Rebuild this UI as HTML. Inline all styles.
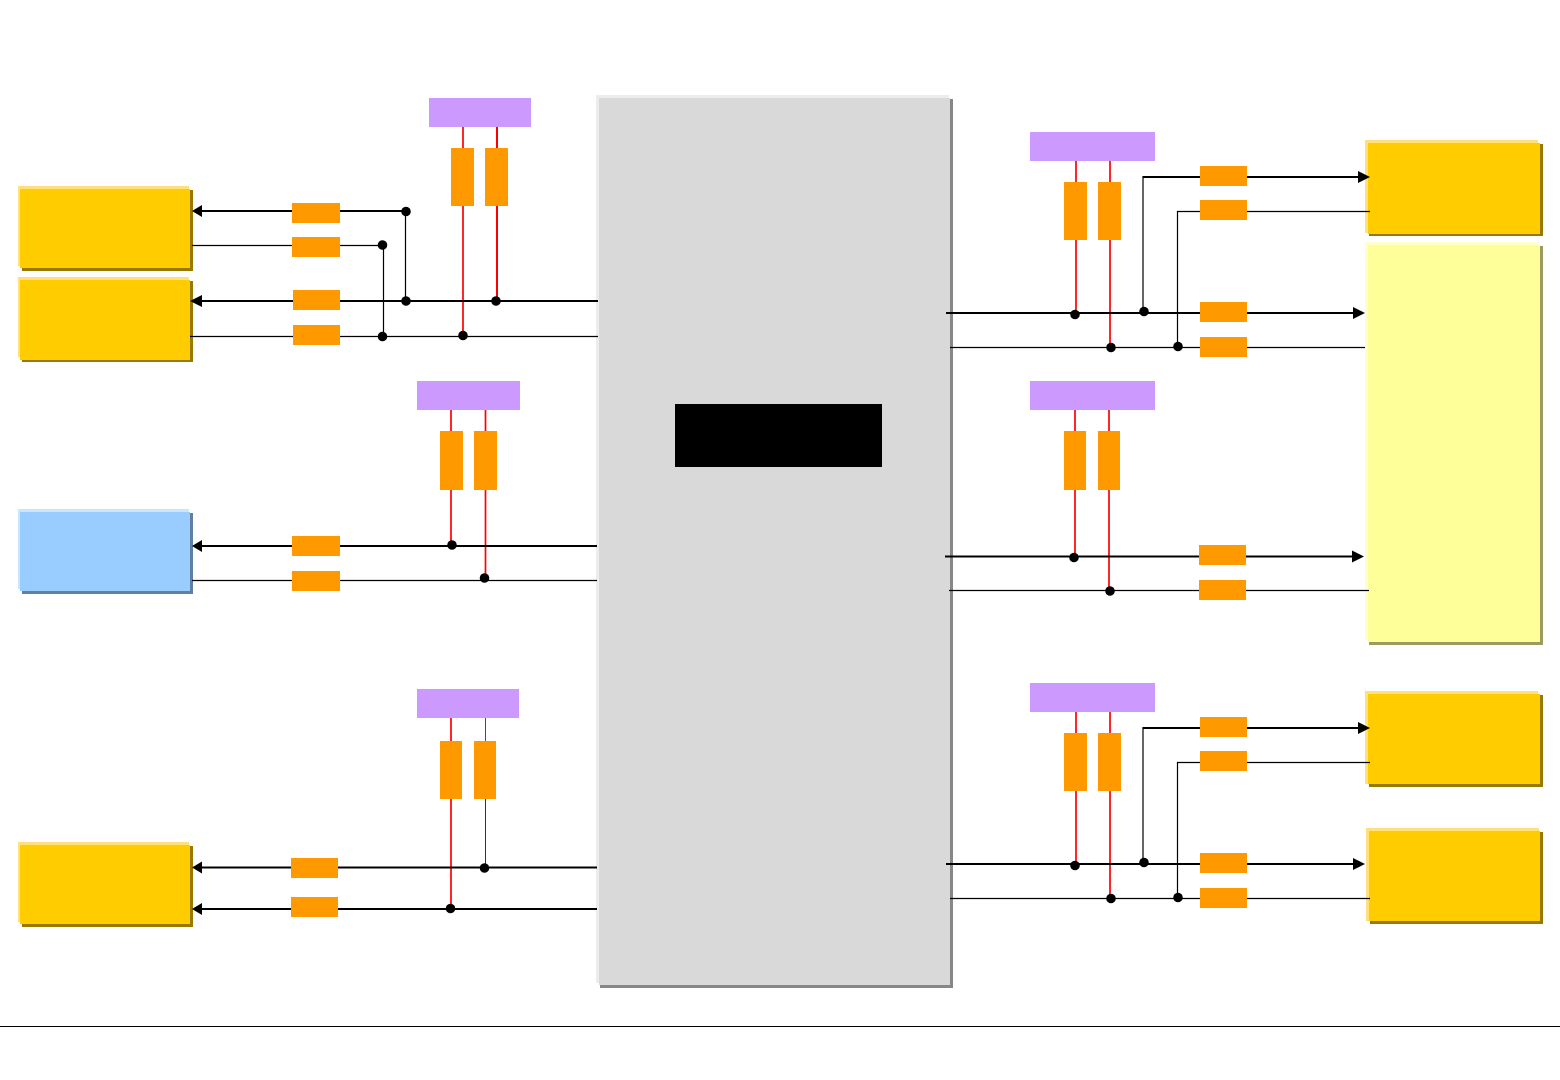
<!DOCTYPE html>
<html>
<head>
<meta charset="utf-8">
<title>Diagram</title>
<style>
html,body{margin:0;padding:0;background:#fff;width:1560px;height:1080px;overflow:hidden}
svg{display:block}
.o{fill:#ff9900}
.p{fill:#cc99ff}
.k{stroke:#000;fill:none}
.t{stroke-width:2}
.n{stroke-width:1.2}
.r{stroke:#f00;fill:none;stroke-width:1.7}
</style>
</head>
<body>
<svg width="1560" height="1080" viewBox="0 0 1560 1080" xmlns="http://www.w3.org/2000/svg">
<rect width="1560" height="1080" fill="#fff"/>

<!-- Centre block -->
<rect x="596" y="95" width="353" height="888" fill="#ececec"/>
<rect x="600" y="99" width="353" height="889" fill="#878787"/>
<rect x="599" y="98" width="351" height="887" fill="#d9d9d9"/>
<rect x="675" y="404" width="207" height="63" fill="#000"/>

<!-- Left boxes -->
<rect x="18" y="186" width="171" height="80" fill="#ffe07f"/>
<rect x="22" y="190" width="171" height="81" fill="#997a00"/>
<rect x="20" y="189" width="170" height="79" fill="#ffcc00"/>

<rect x="18" y="277" width="171" height="80" fill="#ffe07f"/>
<rect x="22" y="281" width="171" height="81" fill="#997a00"/>
<rect x="20" y="280" width="170" height="80" fill="#ffcc00"/>

<rect x="18" y="509" width="171" height="80" fill="#cce5ff"/>
<rect x="22" y="513" width="171" height="81" fill="#5f7fa3"/>
<rect x="20" y="512" width="170" height="79" fill="#99ccff"/>

<rect x="18" y="842" width="171" height="80" fill="#ffe07f"/>
<rect x="22" y="846" width="171" height="81" fill="#997a00"/>
<rect x="20" y="845" width="170" height="79" fill="#ffcc00"/>

<!-- Right boxes -->
<rect x="1365" y="140" width="173" height="93" fill="#ffe07f"/>
<rect x="1369" y="144" width="174" height="92" fill="#997a00"/>
<rect x="1368" y="143" width="172" height="91" fill="#ffcc00"/>

<rect x="1365" y="242" width="173" height="398" fill="#ffffcc"/>
<rect x="1369" y="246" width="174" height="399" fill="#9c9c60"/>
<rect x="1368" y="245" width="172" height="397" fill="#ffff99"/>

<rect x="1365" y="691" width="173" height="93" fill="#ffe07f"/>
<rect x="1369" y="695" width="174" height="92" fill="#997a00"/>
<rect x="1368" y="694" width="172" height="90" fill="#ffcc00"/>

<rect x="1366" y="828" width="173" height="93" fill="#ffe07f"/>
<rect x="1370" y="832" width="173" height="92" fill="#997a00"/>
<rect x="1369" y="831" width="171" height="90" fill="#ffcc00"/>

<!-- Footer rule -->
<line x1="0" x2="1560" y1="1026.5" y2="1026.5" stroke="#000" stroke-width="1"/>

<!-- Red lines -->
<path class="r" d="M463 127V335"/>
<path class="r" style="stroke-width:2" d="M497 127V301"/>
<path class="r" d="M451 410V545M485.500 410V578"/>
<path class="r" d="M451 718V908"/>
<path class="r" style="stroke-width:1" d="M485.500 718V741"/>
<path d="M485.500 799V868" stroke="#333" stroke-width="1" fill="none"/>
<path class="r" d="M1076 161V314M1110 161V347"/>
<path class="r" d="M1075 410V557M1109 410V591"/>
<path class="r" d="M1076 712V865M1110 712V898"/>

<!-- Black lines left -->
<path class="k t" d="M196 211H406"/>
<path class="k n" d="M192 245.500H384"/>
<path class="k n" d="M405.500 211V301M383.500 245V337"/>
<path class="k t" d="M196 301H598"/>
<path class="k n" d="M190 336.500H598"/>
<path class="k t" d="M196 546H597"/>
<path class="k n" d="M192 580.500H597"/>
<path class="k t" d="M196 867.500H597"/>
<path class="k t" d="M196 909H597"/>

<!-- Black lines right -->
<path class="k t" d="M946 313H1358"/>
<path class="k n" d="M950 347.500H1365"/>
<path class="k t" d="M1142.500 177H1362"/>
<path class="k n" d="M1143 176V312"/>
<path class="k n" d="M1177.500 347V211.500H1370"/>
<path class="k t" d="M945 556.500H1358"/>
<path class="k n" d="M949 590.500H1369"/>
<path class="k t" d="M946 864H1358"/>
<path class="k n" d="M950 898.500H1370"/>
<path class="k t" d="M1142.500 728H1362"/>
<path class="k n" d="M1143 727V863"/>
<path class="k n" d="M1177.500 898V762.500H1370"/>

<!-- Arrowheads -->
<g fill="#000">
<polygon points="192,211 202,205 202,217"/>
<polygon points="190,301 202,295 202,307"/>
<polygon points="192,546 202,540 202,552"/>
<polygon points="192,867.500 202,861.500 202,873.500"/>
<polygon points="192,909 202,903 202,915"/>
<polygon points="1370,177 1358,171 1358,183"/>
<polygon points="1365,313 1353,307 1353,319"/>
<polygon points="1364,556.500 1352,550.500 1352,562.500"/>
<polygon points="1370,728 1358,722 1358,734"/>
<polygon points="1365,864 1353,858 1353,870"/>
</g>

<!-- Junction dots -->
<g fill="#000">
<circle cx="406" cy="211.500" r="4.800"/>
<circle cx="382.500" cy="245" r="4.800"/>
<circle cx="406" cy="301" r="4.800"/>
<circle cx="382.500" cy="336.500" r="4.800"/>
<circle cx="496" cy="301" r="4.800"/>
<circle cx="463" cy="335.500" r="4.800"/>
<circle cx="452" cy="545" r="4.800"/>
<circle cx="484.500" cy="578" r="4.800"/>
<circle cx="484.500" cy="868" r="4.800"/>
<circle cx="450.500" cy="908.500" r="4.800"/>
<circle cx="1075" cy="314.500" r="4.800"/>
<circle cx="1144" cy="311.500" r="4.800"/>
<circle cx="1111" cy="347.500" r="4.800"/>
<circle cx="1178" cy="346.500" r="4.800"/>
<circle cx="1074" cy="557.500" r="4.800"/>
<circle cx="1110" cy="591" r="4.800"/>
<circle cx="1075" cy="865.500" r="4.800"/>
<circle cx="1144" cy="862.500" r="4.800"/>
<circle cx="1111" cy="898.500" r="4.800"/>
<circle cx="1178" cy="897.500" r="4.800"/>
</g>

<!-- Purple boxes -->
<rect class="p" x="429" y="98" width="102" height="29"/>
<rect class="p" x="417" y="381" width="103" height="29"/>
<rect class="p" x="417" y="689" width="102" height="29"/>
<rect class="p" x="1030" y="132" width="125" height="29"/>
<rect class="p" x="1030" y="381" width="125" height="29"/>
<rect class="p" x="1030" y="683" width="125" height="29"/>

<!-- Orange vertical -->
<rect class="o" x="451" y="148" width="23" height="58"/>
<rect class="o" x="485" y="148" width="23" height="58"/>
<rect class="o" x="440" y="431" width="23" height="59"/>
<rect class="o" x="474" y="431" width="23" height="59"/>
<rect class="o" x="440" y="741" width="22" height="58"/>
<rect class="o" x="474" y="741" width="22" height="58"/>
<rect class="o" x="1064" y="182" width="23" height="58"/>
<rect class="o" x="1098" y="182" width="23" height="58"/>
<rect class="o" x="1064" y="431" width="22" height="59"/>
<rect class="o" x="1098" y="431" width="22" height="59"/>
<rect class="o" x="1064" y="733" width="23" height="58"/>
<rect class="o" x="1098" y="733" width="23" height="58"/>

<!-- Orange horizontal -->
<rect class="o" x="292" y="203" width="48" height="20"/>
<rect class="o" x="292" y="237" width="48" height="20"/>
<rect class="o" x="293" y="290" width="47" height="20"/>
<rect class="o" x="293" y="325" width="47" height="20"/>
<rect class="o" x="292" y="536" width="48" height="20"/>
<rect class="o" x="292" y="571" width="48" height="20"/>
<rect class="o" x="291" y="858" width="47" height="20"/>
<rect class="o" x="291" y="897" width="47" height="20"/>
<rect class="o" x="1200" y="166" width="47" height="20"/>
<rect class="o" x="1200" y="200" width="47" height="20"/>
<rect class="o" x="1200" y="302" width="47" height="20"/>
<rect class="o" x="1200" y="337" width="47" height="20"/>
<rect class="o" x="1199" y="545" width="47" height="20"/>
<rect class="o" x="1199" y="580" width="47" height="20"/>
<rect class="o" x="1200" y="717" width="47" height="20"/>
<rect class="o" x="1200" y="751" width="47" height="20"/>
<rect class="o" x="1200" y="853" width="47" height="20"/>
<rect class="o" x="1200" y="888" width="47" height="20"/>
</svg>
</body>
</html>
